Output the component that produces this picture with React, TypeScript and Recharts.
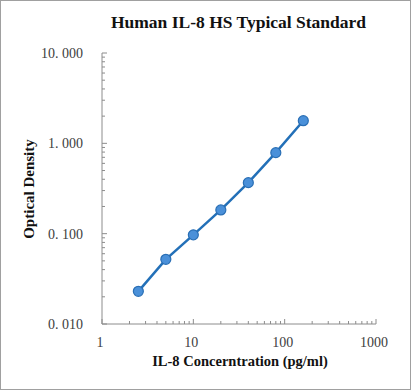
import { ComposedChart, Line, XAxis, YAxis } from 'recharts';

const concentrations = [2.5, 5, 10, 20, 40, 80, 160];
const densities = [0.023, 0.052, 0.097, 0.183, 0.367, 0.789, 1.78];

const xTicks = [1, 2, 3, 4, 5, 6, 7, 8, 9, 10, 20, 30, 40, 50, 60, 70, 80, 90, 100, 200, 300, 400, 500, 600, 700, 800, 900, 1000];
const xMajor = [1, 10, 100, 1000];
const yTicks = [0.01, 0.02, 0.03, 0.04, 0.05, 0.06, 0.07, 0.08, 0.09, 0.1, 0.2, 0.3, 0.4, 0.5, 0.6, 0.7, 0.8, 0.9, 1, 2, 3, 4, 5, 6, 7, 8, 9, 10];
const yMajor = [0.01, 0.1, 1, 10];
const yLabels = ['0. 010', '0. 100', '1. 000', '10. 000'];

const data = concentrations.map((c, i) => ({ conc: c, od: densities[i] }));

const serif = '"Liberation Serif", "Times New Roman", serif';
const axisGray = '#8c8c8c';

const XTick = (props: any) => {
  const { x, y, payload } = props;
  const major = xMajor.includes(payload.value);
  return (
    <g>
      <line x1={x} y1={y} x2={x} y2={y - (major ? 5 : 3)} stroke={axisGray} />
      {major && (
        <text x={x - 2} y={y + 23} textAnchor="middle" fontSize={14} fontFamily={serif} fill="#404040">
          {payload.value}
        </text>
      )}
    </g>
  );
};

const YTick = (props: any) => {
  const { x, y, payload } = props;
  const idx = yMajor.indexOf(payload.value);
  return (
    <g>
      <line x1={x} y1={y} x2={x + (idx >= 0 ? 5 : 3)} y2={y} stroke={axisGray} />
      {idx >= 0 && (
        <text x={x - 19} y={y + 5} textAnchor="end" fontSize={14} fontFamily={serif} fill="#404040">
          {yLabels[idx]}
        </text>
      )}
    </g>
  );
};

export default function App() {
  return (
    <div
      style={{
        position: 'absolute',
        left: 0,
        top: 0,
        width: 411,
        height: 390,
        boxSizing: 'border-box',
        border: '1px solid #a0a0a0',
        background: '#fff',
        fontFamily: serif,
      }}
    >
      <div
        style={{
          position: 'absolute',
          left: 0,
          top: 11,
          width: 475,
          textAlign: 'center',
          fontWeight: 'bold',
          fontSize: 17.5,
          color: '#111',
        }}
      >
        Human IL-8 HS Typical Standard
      </div>
      <div
        style={{
          position: 'absolute',
          left: 28,
          top: 188,
          transform: 'translate(-50%, -50%) rotate(-90deg)',
          whiteSpace: 'nowrap',
          fontWeight: 'bold',
          fontSize: 15,
          color: '#111',
        }}
      >
        Optical Density
      </div>
      <div
        style={{
          position: 'absolute',
          left: 0,
          top: 352,
          width: 478,
          textAlign: 'center',
          fontWeight: 'bold',
          fontSize: 14.5,
          color: '#111',
        }}
      >
        IL-8 Concerntration (pg/ml)
      </div>
      <div style={{ position: 'absolute', left: -1, top: -1 }}>
        <ComposedChart width={411} height={390} data={data} margin={{ top: 53, right: 35, left: 0, bottom: 0 }}>
          <XAxis
            dataKey="conc"
            type="number"
            scale="log"
            domain={[1, 1000]}
            ticks={xTicks}
            interval={0}
            allowDataOverflow
            height={66}
            tickSize={0}
            tickMargin={0}
            tickLine={false}
            axisLine={{ stroke: axisGray }}
            tick={<XTick />}
          />
          <YAxis
            type="number"
            scale="log"
            domain={[0.01, 10]}
            ticks={yTicks}
            interval={0}
            allowDataOverflow
            width={102}
            tickSize={0}
            tickMargin={0}
            tickLine={false}
            axisLine={{ stroke: axisGray }}
            tick={<YTick />}
          />
          <Line
            dataKey="od"
            type="linear"
            stroke="#2370b8"
            strokeWidth={2.5}
            dot={{ r: 5, fill: '#4a90d9', stroke: '#2a6fb5', strokeWidth: 1.2 }}
            isAnimationActive={false}
          />
        </ComposedChart>
      </div>
    </div>
  );
}
